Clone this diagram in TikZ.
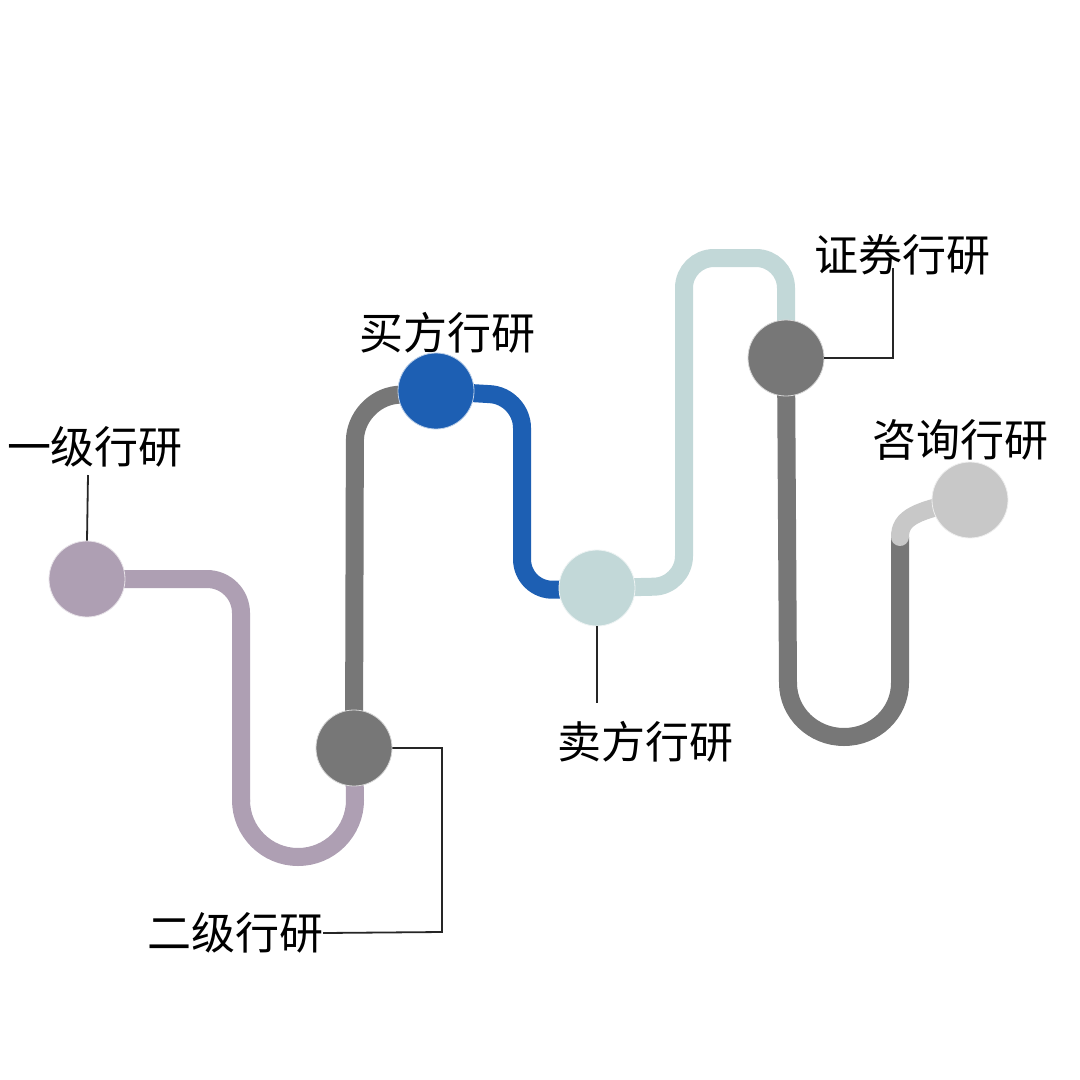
\documentclass[tikz,border=0pt]{standalone}
\usepackage{fontspec}
\newfontfamily\cjk{Noto Sans CJK SC}
\definecolor{lav}{HTML}{AE9FB3}
\definecolor{dgray}{HTML}{777777}
\definecolor{blu}{HTML}{1D5FB3}
\definecolor{teal}{HTML}{C2D8D8}
\definecolor{lgray}{HTML}{C8C8C8}
\begin{document}
\begin{tikzpicture}[x=1pt,y=-1pt,
  pipe/.style={line width=18pt},
  dot/.style={circle,minimum size=76pt,inner sep=0pt,fill=#1,draw=white!70!#1,line width=0.8pt},
  lead/.style={line width=1.8pt,black!85},
  lab/.style={font=\cjk\fontsize{44}{44}\selectfont,inner sep=0pt,text=black}]
\useasboundingbox (0,0) rectangle (1080,1080);
\fill[white] (0,0) rectangle (1080,1080);
% node placeholders (coordinates)
\coordinate (c1) at (87,579);
\coordinate (c2) at (354,748);
\coordinate (c3) at (436,391);
\coordinate (c4) at (597,588);
\coordinate (c5) at (786,358);
\coordinate (c6) at (970,500);
% pipes
\draw[pipe,lav,rounded corners=34pt] (c1) -- (241,579) -- (241,802);
\draw[pipe,lav] (241,800) arc[start angle=180,end angle=360,x radius=57,y radius=-57] -- (c2);
\draw[pipe,dgray,rounded corners=42pt] (c2) -- (355,399) -- (c3);
\draw[pipe,blu,rounded corners=32pt] (c3) -- (522,396) -- (522,591) -- (c4);
\draw[pipe,teal,rounded corners=30pt] (c4) -- (684,586) -- (684,258) -- (786,258) -- (c5);
\draw[pipe,dgray] (c5) -- (788,683) arc[start angle=180,end angle=360,x radius=56,y radius=-54] -- (900,537);
\draw[pipe,lgray,line cap=round] (900,537) .. controls (900,518) and (915,510) .. (c6);
% circles
\node[dot=lav] (n1) at (c1) {};
\node[dot=dgray] (n2) at (c2) {};
\node[dot=blu] (n3) at (c3) {};
\node[dot=teal] (n4) at (c4) {};
\node[dot=dgray] (n5) at (c5) {};
\node[dot=lgray] (n6) at (c6) {};
% labels
\node[lab] (l1) at (95,447) {一级行研};
\node[lab] (l2) at (235,933) {二级行研};
\node[lab] (l3) at (447,333) {买方行研};
\node[lab] (l4) at (645,742) {卖方行研};
\node[lab] (l5) at (902,255) {证券行研};
\node[lab] (l6) at (960,440) {咨询行研};
% leaders
\coordinate (e1) at (88,475);
\coordinate (e4) at (597,703);
\coordinate (e5) at (893,268);
\draw[lead] (n1.north) -- (e1);
\draw[lead] (n2.east) -- (442,748) -- (442,932) -- (l2.east);
\draw[lead] (n4.south) -- (e4);
\draw[lead] (n5.east) -| (e5);
\end{tikzpicture}
\end{document}
